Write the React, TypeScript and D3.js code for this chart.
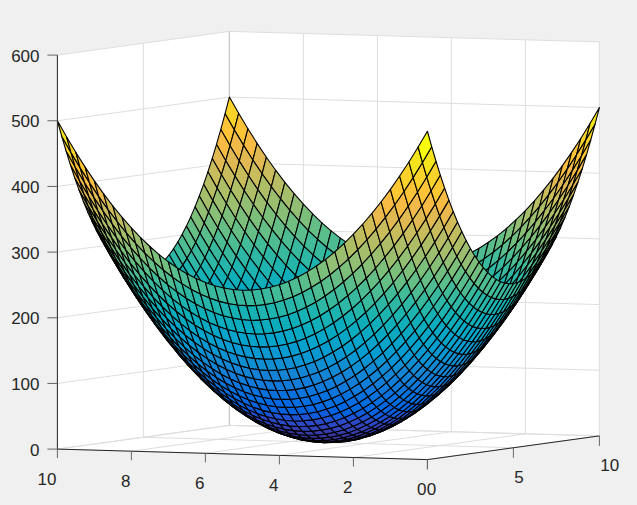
import React from "react";
import * as d3 from "d3";

// Grid of the surface (both horizontal axes share it)
const gridValues = [0,0.25,0.5,0.75,1,1.25,1.5,1.75,2,2.25,2.5,2.75,3,3.25,3.5,3.75,4,4.25,4.5,4.75,5,5.25,5.5,5.75,6,6.25,6.5,6.75,7,7.25,7.5,7.75,8,8.25,8.5,8.75,9,9.25,9.5,9.75,10];
const riseAlongX = [250,225.625,202.5,180.625,160,140.625,122.5,105.625,90,75.625,62.5,50.625,40,30.625,22.5,15.625,10,5.625,2.5,0.625,0,0.625,2.5,5.625,10,15.625,22.5,30.625,40,50.625,62.5,75.625,90,105.625,122.5,140.625,160,180.625,202.5,225.625,250];
const riseAlongY = [250,225.625,202.5,180.625,160,140.625,122.5,105.625,90,75.625,62.5,50.625,40,30.625,22.5,15.625,10,5.625,2.5,0.625,0,0.625,2.5,5.625,10,15.625,22.5,30.625,40,50.625,62.5,75.625,90,105.625,122.5,140.625,160,180.625,202.5,225.625,250];

const xTicks = [0,2,4,6,8,10];
const yTicks = [0,5,10];
const zTicks = [0,100,200,300,400,500,600];

const parula = [
[0.2081,0.1663,0.5292],[0.2116,0.1898,0.5777],[0.2123,0.2138,0.627],[0.2081,0.2386,0.6771],[0.1959,0.2645,0.7279],[0.1707,0.2919,0.7792],[0.1253,0.3242,0.8303],[0.0591,0.3598,0.8683],
[0.0117,0.3875,0.882],[0.006,0.4086,0.8828],[0.0165,0.4266,0.8786],[0.0329,0.443,0.872],[0.0498,0.4586,0.8641],[0.0629,0.4737,0.8554],[0.0723,0.4887,0.8467],[0.0779,0.504,0.8384],
[0.0793,0.52,0.8312],[0.0749,0.5375,0.8263],[0.0641,0.557,0.824],[0.0488,0.5772,0.8228],[0.0343,0.5966,0.8199],[0.0265,0.6137,0.8135],[0.0239,0.6287,0.8038],[0.0231,0.6418,0.7913],
[0.0228,0.6535,0.7768],[0.0267,0.6642,0.7607],[0.0384,0.6743,0.7436],[0.059,0.6838,0.7254],[0.0843,0.6928,0.7062],[0.1133,0.7015,0.6859],[0.1453,0.7098,0.6646],[0.1801,0.7177,0.6424],
[0.2178,0.725,0.6193],[0.2586,0.7317,0.5954],[0.3022,0.7376,0.5712],[0.3482,0.7424,0.5473],[0.3953,0.7459,0.5244],[0.442,0.7481,0.5033],[0.4871,0.7491,0.484],[0.53,0.7491,0.4661],
[0.5709,0.7485,0.4494],[0.6099,0.7473,0.4337],[0.6473,0.7456,0.4188],[0.6834,0.7435,0.4044],[0.7184,0.7411,0.3905],[0.7525,0.7384,0.3768],[0.7858,0.7356,0.3633],[0.8185,0.7327,0.3498],
[0.8507,0.7299,0.336],[0.8824,0.7274,0.3217],[0.9139,0.7258,0.3063],[0.945,0.7261,0.2886],[0.9739,0.7314,0.2666],[0.9938,0.7455,0.2403],[0.999,0.7653,0.2164],[0.9955,0.7861,0.1967],
[0.988,0.8066,0.1794],[0.9789,0.8271,0.1633],[0.9697,0.8481,0.1475],[0.9626,0.8705,0.1309],[0.9589,0.8949,0.1132],[0.9598,0.9218,0.0948],[0.9661,0.9514,0.0755],[0.9763,0.9831,0.0538],
];

// Orthographic projection: each data axis contributes one linear screen offset
const xToPx = d3.scaleLinear().domain([0, 10]).range([0, -370]);
const xToPy = d3.scaleLinear().domain([0, 10]).range([0, -10.5]);
const yToPx = d3.scaleLinear().domain([0, 10]).range([0, 172]);
const yToPy = d3.scaleLinear().domain([0, 10]).range([0, -23.7]);
const zToPy = d3.scaleLinear().domain([0, 600]).range([0, -394]);
const ORIGIN: [number, number] = [427.4, 459.6];

const project = (x: number, y: number, z: number): [number, number] => [
  ORIGIN[0] + xToPx(x) + yToPx(y),
  ORIGIN[1] + xToPy(x) + yToPy(y) + zToPy(z),
];

const colorIndex = d3.scaleQuantize<number>().domain([0, 500]).range(d3.range(parula.length));
const colorOf = (z: number) => {
  const c = parula[colorIndex(z)];
  return d3.rgb(c[0] * 255, c[1] * 255, c[2] * 255).formatHex();
};

const lineGen = d3.line<[number, number]>();

const zAt = (i: number, j: number) => riseAlongX[i] + riseAlongY[j];

const GRID = "#dedede";
const AXIS = "#262626";
const FONT = "'Liberation Sans', Arial, Helvetica, sans-serif";

function Seg({ a, b, stroke, w = 1 }: { a: [number, number]; b: [number, number]; stroke: string; w?: number }) {
  return <line x1={a[0]} y1={a[1]} x2={b[0]} y2={b[1]} stroke={stroke} strokeWidth={w} />;
}

export default function App() {
  const zMax = zTicks[zTicks.length - 1];
  const cells: React.ReactNode[] = [];
  const n = gridValues.length - 1;
  for (let i = n - 1; i >= 0; i--) {
    for (let j = n - 1; j >= 0; j--) {
      const pts = [
        project(gridValues[i], gridValues[j], zAt(i, j)),
        project(gridValues[i + 1], gridValues[j], zAt(i + 1, j)),
        project(gridValues[i + 1], gridValues[j + 1], zAt(i + 1, j + 1)),
        project(gridValues[i], gridValues[j + 1], zAt(i, j + 1)),
      ];
      cells.push(
        <path key={`${i}-${j}`} d={lineGen(pts) + "Z"} fill={colorOf(zAt(i, j))} stroke="#000" strokeWidth={1.1} strokeLinejoin="round" />
      );
    }
  }
  const wall = [project(10, 0, 0), project(10, 0, zMax), project(10, 10, zMax), project(0, 10, zMax), project(0, 10, 0), project(0, 0, 0)];
  return (
    <svg width={637} height={505} style={{ position: "absolute", left: 0, top: 0, display: "block" }} fontFamily={FONT}>
      <rect width={637} height={505} fill="#f0f0f0" />
      <path d={lineGen(wall) + "Z"} fill="#fff" />
      <g>
        {xTicks.map((t) => (
          <g key={`gx${t}`}>
            <Seg a={project(t, 0, 0)} b={project(t, 10, 0)} stroke={GRID} />
            <Seg a={project(t, 10, 0)} b={project(t, 10, zMax)} stroke={GRID} />
          </g>
        ))}
        {yTicks.map((t) => (
          <g key={`gy${t}`}>
            <Seg a={project(0, t, 0)} b={project(10, t, 0)} stroke={GRID} />
            <Seg a={project(10, t, 0)} b={project(10, t, zMax)} stroke={GRID} />
          </g>
        ))}
        {zTicks.map((t) => (
          <g key={`gz${t}`}>
            <Seg a={project(10, 0, t)} b={project(10, 10, t)} stroke={GRID} />
            <Seg a={project(10, 10, t)} b={project(0, 10, t)} stroke={GRID} />
          </g>
        ))}
        <Seg a={project(10, 10, 0)} b={project(10, 10, zMax)} stroke="#c4c4c4" />
      </g>
      <g>{cells}</g>
      <g>
        <Seg a={project(10, 0, 0)} b={project(0, 0, 0)} stroke={AXIS} />
        <Seg a={project(0, 0, 0)} b={project(0, 10, 0)} stroke={AXIS} />
        <Seg a={project(10, 0, 0)} b={project(10, 0, zMax)} stroke={AXIS} />
        {xTicks.map((t) => {
          const p = project(t, 0, 0);
          return <Seg key={`tx${t}`} a={p} b={[p[0], p[1] + 9]} stroke="#666" />;
        })}
        {yTicks.map((t) => {
          const p = project(0, t, 0);
          return <Seg key={`ty${t}`} a={p} b={[p[0], p[1] + 10]} stroke="#666" />;
        })}
        {zTicks.map((t) => {
          const p = project(10, 0, t);
          return <Seg key={`tz${t}`} a={[p[0] - 10, p[1]]} b={p} stroke="#666" />;
        })}
      </g>
      <g fontSize={17} fill={AXIS}>
        {xTicks.map((t) => {
          const p = project(t, 0, 0);
          return (
            <text key={`lx${t}`} x={p[0] - 1} y={p[1] + 30} textAnchor="end" dominantBaseline="central">{t}</text>
          );
        })}
        {yTicks.map((t) => {
          const p = project(0, t, 0);
          return (
            <text key={`ly${t}`} x={p[0] + (t === 0 ? -0.6 : 0.8)} y={p[1] + 29.5} textAnchor="start" dominantBaseline="central">{t}</text>
          );
        })}
        {zTicks.map((t) => {
          const p = project(10, 0, t);
          return (
            <text key={`lz${t}`} x={39.5} y={p[1] + 1} textAnchor="end" dominantBaseline="central">{t}</text>
          );
        })}
      </g>
    </svg>
  );
}
